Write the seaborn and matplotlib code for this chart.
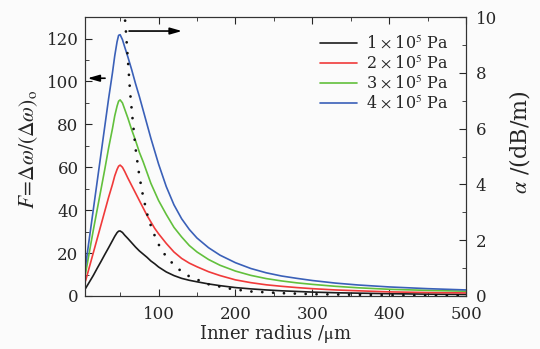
import numpy as np
import pandas as pd
import matplotlib
matplotlib.use('Agg')
import matplotlib.pyplot as plt
from matplotlib.ticker import MultipleLocator
import seaborn as sns

# F curves (left axis)
radius = [5, 10, 15, 20, 25, 30, 35, 40, 43, 46, 48, 50, 53, 56, 60, 65, 70,
          75, 80, 85, 90, 95, 100, 110, 120, 130, 140, 150, 165, 180, 200,
          220, 240, 260, 280, 300, 330, 360, 400, 450, 500]
f_1e5 = [3.5, 6.5, 9.5, 12.8, 16, 19.3, 22.5, 25.8, 27.8, 29.5, 30.2, 30.3,
         29.6, 28.3, 26.8, 24.8, 22.8, 21, 19.5, 18, 16.3, 15, 13.5, 11.2,
         9.5, 8.2, 7.3, 6.6, 5.6, 4.8, 3.9, 3.3, 2.8, 2.4, 2.1, 1.8, 1.5,
         1.3, 1.05, 0.85, 0.7]
f_2e5 = [7, 13.5, 20, 26.5, 33, 39.5, 46, 52, 56, 59, 60.5, 61, 60, 58, 55,
         51.5, 48, 44.5, 41, 37.5, 34.5, 31.5, 29, 24.5, 20.5, 17.5, 15.3,
         13.6, 11.3, 9.5, 7.5, 6.2, 5.2, 4.5, 3.9, 3.4, 2.8, 2.4, 1.9, 1.6, 1.4]
f_3e5 = [10.5, 20.5, 30.5, 40, 49.5, 59, 69, 78, 84, 88.5, 90.8, 91.4, 90,
         87, 83, 77.5, 72.5, 67, 62.5, 57.5, 52.5, 48.5, 44.5, 38, 32, 27.5,
         23.5, 20.5, 17, 14.3, 11.6, 9.6, 8.1, 7.0, 6.1, 5.4, 4.5, 3.8, 3.1,
         2.6, 2.2]
f_4e5 = [14, 27, 40, 53, 66, 79, 92, 104, 112, 118.5, 121.5, 121.8, 119.5,
         116, 111.5, 105.5, 99, 93, 86.5, 80, 73.5, 67.5, 61.5, 51, 42.5, 36,
         31, 27, 22.5, 19, 15.5, 12.8, 10.8, 9.3, 8.2, 7.2, 6.0, 5.1, 4.2,
         3.4, 2.8]
pressure_labels = [r'1$\,\times\,$10$^{5}$ Pa', r'2$\,\times\,$10$^{5}$ Pa',
                   r'3$\,\times\,$10$^{5}$ Pa', r'4$\,\times\,$10$^{5}$ Pa']
colors = ['#1c1c1c', '#f03a3a', '#62c03c', '#3a60b8']

# attenuation alpha (right axis, dotted)
alpha_radius = [53, 57, 60, 63, 66, 70, 75, 80, 86, 92, 100, 110, 125, 140,
                165, 195, 220, 260, 300, 350, 400, 450, 500]
alpha_db = [11.0, 9.7, 8.5, 7.3, 6.4, 5.3, 4.3, 3.55, 2.85, 2.35, 1.85, 1.4,
            0.98, 0.7, 0.42, 0.25, 0.16, 0.1, 0.065, 0.045, 0.03, 0.02, 0.015]

df = pd.DataFrame({
    'radius': radius * 4,
    'F': f_1e5 + f_2e5 + f_3e5 + f_4e5,
    'p': sum([[lab] * len(radius) for lab in pressure_labels], []),
})

sns.set_style('ticks')
plt.rcParams['font.family'] = ['DejaVu Serif']
plt.rcParams['mathtext.fontset'] = 'stix'
plt.rcParams['axes.edgecolor'] = '#333333'

fig = plt.figure(figsize=(5.4, 3.49), dpi=100)
fig.patch.set_facecolor('#fbfbfb')
ax = fig.add_axes([0.157, 0.152, 0.706, 0.799])
ax.set_facecolor('#fbfbfb')

sns.lineplot(data=df, x='radius', y='F', hue='p', hue_order=pressure_labels,
             palette=colors, estimator=None, linewidth=1.2, ax=ax, legend=False)

ax.set_xlim(4, 500)
ax.set_ylim(0, 130)
ax.xaxis.set_major_locator(MultipleLocator(100))
ax.xaxis.set_minor_locator(MultipleLocator(50))
ax.yaxis.set_major_locator(MultipleLocator(20))
ax.yaxis.set_minor_locator(MultipleLocator(10))
ax.tick_params(which='both', direction='in', top=True, right=False, labelsize=12)
ax.tick_params(axis='x', pad=7)
ax.tick_params(axis='y', pad=4.5)
ax.tick_params(which='major', length=5)
ax.tick_params(which='minor', length=3)
ax.set_xlabel(r'Inner radius /$\mathrm{\mu}$m', fontsize=13, labelpad=0)
ax.set_ylabel(r'$F\!=\!\Delta\omega/(\Delta\omega)_{\mathrm{o}}$', fontsize=15.5, labelpad=5)
ax.yaxis.label.set_y(0.525)

ax.legend(handles=ax.get_lines()[:4], labels=pressure_labels, frameon=False,
          loc='upper right', bbox_to_anchor=(0.955, 0.935), fontsize=11.5,
          handlelength=2.3, labelspacing=0.2, handletextpad=0.6,
          borderaxespad=0, borderpad=0)

ax2 = ax.twinx()
sns.lineplot(x=alpha_radius, y=alpha_db, ax=ax2, color='#111111', linewidth=2.0,
             linestyle=(0, (0.01, 3.9)), dash_capstyle='round')
ax2.set_ylim(0, 10)
ax2.yaxis.set_major_locator(MultipleLocator(2))
ax2.yaxis.set_minor_locator(MultipleLocator(1))
ax2.tick_params(which='both', direction='in', labelsize=12, pad=7)
ax2.tick_params(which='major', length=5)
ax2.tick_params(which='minor', length=3)
ax2.set_ylabel(r'$\alpha$ /(dB/m)', fontsize=16, labelpad=7)
ax2.yaxis.label.set_y(0.552)

# direction arrows
arrow_style = dict(arrowstyle='-|>,head_length=0.7,head_width=0.2', color='k',
                   lw=1.2, mutation_scale=10)
ax.annotate('', xy=(4, 101.5), xytext=(34, 101.5), arrowprops=arrow_style)
ax.annotate('', xy=(134, 123.5), xytext=(58, 123.5), arrowprops=arrow_style)

fig.savefig('out.png', dpi=100, facecolor=fig.get_facecolor())
